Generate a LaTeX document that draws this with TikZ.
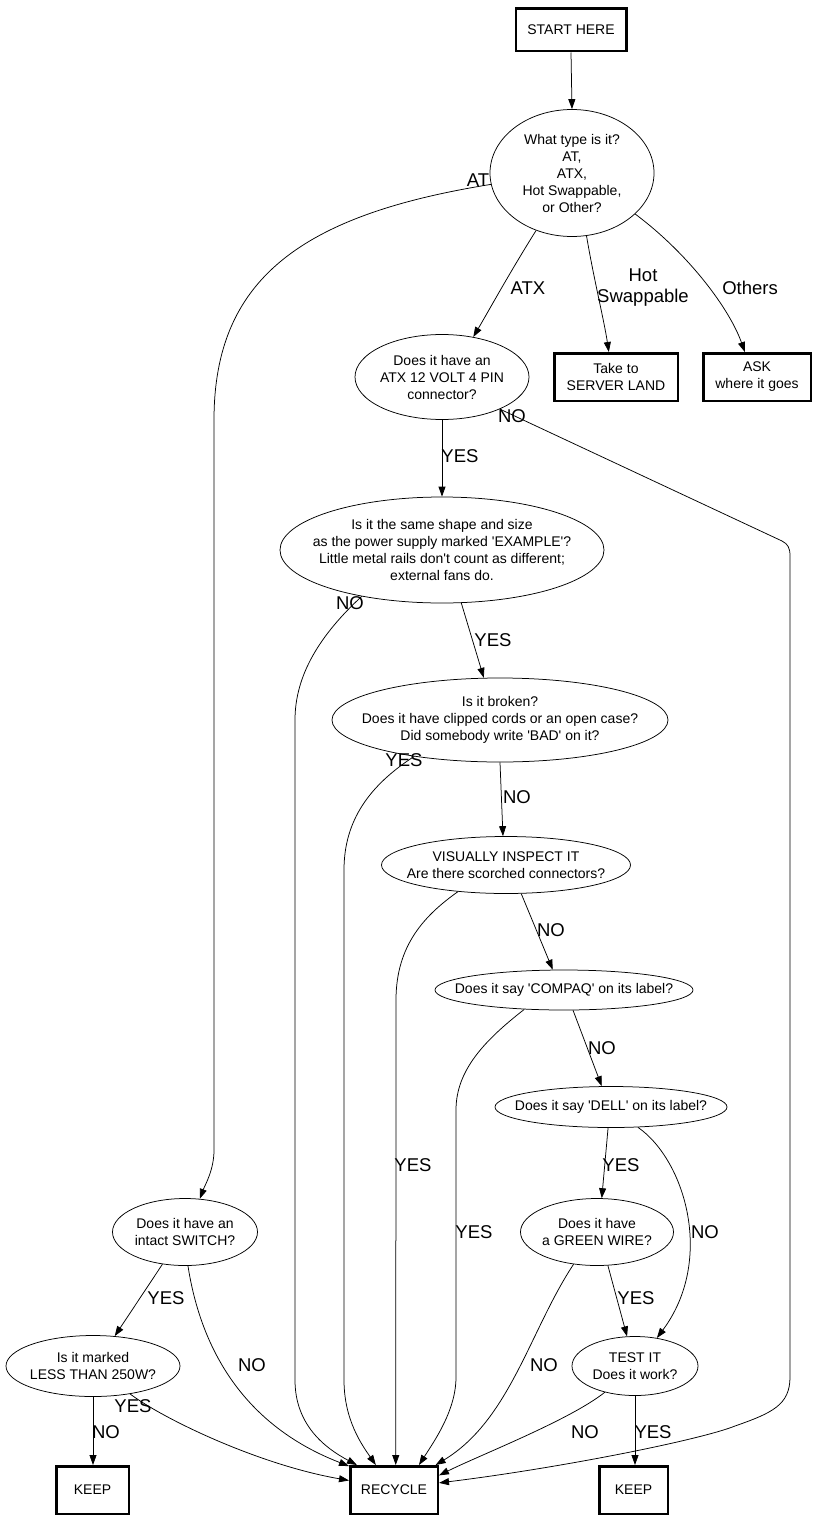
\documentclass[tikz,border=0pt]{standalone}
\usepackage{fontspec}
\setmainfont{Liberation Sans}
\usetikzlibrary{shapes.geometric,arrows.meta}
\newcommand\nodefnt{\fontsize{14}{17}\selectfont}
\newcommand\lblfnt{\fontsize{18.5}{21}\selectfont}
\newcommand\sq{\textquotesingle}
\begin{document}
\begin{tikzpicture}[x=1pt,y=-1pt,
  q/.style={ellipse,draw,line width=0.75pt,inner sep=0pt},
  txt/.style={inner sep=0pt,align=center,font=\nodefnt},
  bx/.style={rectangle,draw,line width=2.5pt,inner sep=0pt,align=center,font=\nodefnt},
  lbl/.style={inner sep=0pt,align=center,font=\lblfnt},
  con/.style={line width=0.75pt,-{Triangle[length=10pt,width=7pt]}}]
\useasboundingbox[fill=white] (0,0) rectangle (819,1520);

% boxes
\node[bx,minimum width=110.5pt,minimum height=42.5pt] (start) at (571,30) {START HERE};
\node[bx,minimum width=123.5pt,minimum height=47.5pt] (server) at (616,377) {Take to\\SERVER LAND};
\node[bx,minimum width=107.5pt,minimum height=47.5pt] (ask) at (757,377) {ASK\\where it goes};
\node[bx,minimum width=72.5pt,minimum height=47.5pt] (keep1) at (92.5,1490) {KEEP};
\node[bx,minimum width=87.5pt,minimum height=47.5pt] (recycle) at (394,1490) {RECYCLE};
\node[bx,minimum width=68.5pt,minimum height=47.5pt] (keep2) at (633.5,1490) {KEEP};

% ellipses
\node[q,minimum width=164pt,minimum height=127pt] (type) at (572,173) {};
\node[txt] (typeT) at (type) {What type is it?\\AT,\\ATX,\\Hot Swappable,\\or Other?};
\node[q,minimum width=174pt,minimum height=85pt] (atx) at (442,377) {};
\node[txt] (atxT) at (atx) {Does it have an\\ATX 12 VOLT 4 PIN\\connector?};
\node[q,minimum width=324pt,minimum height=106pt] (shape) at (442,550) {};
\node[txt] (shapeT) at (shape) {Is it the same shape and size\\as the power supply marked \sq EXAMPLE\sq?\\Little metal rails don\sq t count as different;\\external fans do.};
\node[q,minimum width=336pt,minimum height=84pt] (broken) at (500,720) {};
\node[txt] (brokenT) at (broken) {Is it broken?\\Does it have clipped cords or an open case?\\Did somebody write \sq BAD\sq\ on it?};
\node[q,minimum width=249pt,minimum height=57pt] (visual) at (506,865) {};
\node[txt] (visualT) at (visual) {VISUALLY INSPECT IT\\Are there scorched connectors?};
\node[q,minimum width=258pt,minimum height=40pt] (compaq) at (564,990) {};
\node[txt] (compaqT) at (compaq) {Does it say \sq COMPAQ\sq\ on its label?};
\node[q,minimum width=232pt,minimum height=41pt] (dell) at (611,1107) {};
\node[txt] (dellT) at (dell) {Does it say \sq DELL\sq\ on its label?};
\node[q,minimum width=145pt,minimum height=67pt] (switch) at (185,1232) {};
\node[txt] (switchT) at (switch) {Does it have an\\intact SWITCH?};
\node[q,minimum width=153pt,minimum height=67pt] (green) at (597,1232) {};
\node[txt] (greenT) at (green) {Does it have\\a GREEN WIRE?};
\node[q,minimum width=174pt,minimum height=61pt] (less) at (93,1366) {};
\node[txt] (lessT) at (less) {Is it marked\\LESS THAN 250W?};
\node[q,minimum width=126pt,minimum height=59pt] (test) at (635,1366) {};
\node[txt] (testT) at (test) {TEST IT\\Does it work?};

% connectors
\draw[con] (start.south) -- (type.north);
\draw[con] (type.238) .. controls (510,272) and (488,312) .. (atx.52);
\draw[con] (type.283) .. controls (594,280) and (604,320) .. (server.106);
\draw[con] (type.327) .. controls (690,255) and (730,310) .. (ask.116);
\draw[con] (type.188) .. controls (300,215) and (214,280) .. (214,420) -- (214,1150) .. controls (214,1170) and (205,1185) .. (switch.66);
\draw[con] (atx.331) -- (782,541) .. controls (788,544) and (790,548) .. (790,556) -- (790,1377) .. controls (790,1405) and (772,1413) .. (735,1426) .. controls (700,1440) and (560,1468) .. (recycle.9);
\draw[con] (atx.south) -- (shape.north);
\draw[con] (shape.290) -- (broken.111);
\draw[con] (shape.210) .. controls (320,635) and (295,675) .. (295,720) -- (295,1380) .. controls (295,1425) and (325,1448) .. (recycle.146);
\draw[con] (broken.south) -- (visual.96);
\draw[con] (broken.203) .. controls (370,785) and (344,820) .. (344,870) -- (344,1380) .. controls (344,1420) and (362,1445) .. (recycle.126);
\draw[con] (visual.298) -- (compaq.119);
\draw[con] (visual.209) .. controls (425,915) and (396,945) .. (396,1000) -- (recycle.86);
\draw[con] (compaq.294) -- (dell.114);
\draw[con] (compaq.206) .. controls (485,1040) and (456,1070) .. (456,1110) -- (456,1377) .. controls (456,1410) and (435,1440) .. (recycle.45);
\draw[con] (dell.262) -- (green.82);
\draw[con] (dell.323) .. controls (685,1160) and (715,1260) .. (test.52);
\draw[con] (green.288) -- (test.105);
\draw[con] (green.234) .. controls (530,1330) and (510,1420) .. (recycle.31);
\draw[con] (test.221) .. controls (570,1420) and (480,1455) .. (recycle.18);
\draw[con] (test.south) -- (test.south |- keep2.north);
\draw[con] (switch.235) -- (less.54);
\draw[con] (switch.275) .. controls (198,1330) and (230,1420) .. (recycle.152);
\draw[con] (less.323) .. controls (165,1420) and (260,1465) .. (recycle.168);
\draw[con] (less.south) -- (less.south |- keep1.north);

% edge labels
\node[lbl] (l1) at (478,180) {AT};
\node[lbl] (l2) at (528,288) {ATX};
\node[lbl] (l3) at (643,288) {Hot\\Swappable};
\node[lbl] (l4) at (750,288) {Others};
\node[lbl] (l5) at (512,416) {NO};
\node[lbl] (l6) at (460,456) {YES};
\node[lbl] (l7) at (350,603) {NO};
\node[lbl] (l8) at (493,640) {YES};
\node[lbl] (l9) at (404,760) {YES};
\node[lbl] (l10) at (517,797) {NO};
\node[lbl] (l11) at (551,930) {NO};
\node[lbl] (l12) at (602,1048) {NO};
\node[lbl] (l13) at (413,1165) {YES};
\node[lbl] (l14) at (621,1165) {YES};
\node[lbl] (l15) at (474,1232) {YES};
\node[lbl] (l16) at (705,1232) {NO};
\node[lbl] (l17) at (166,1298) {YES};
\node[lbl] (l18) at (636,1298) {YES};
\node[lbl] (l19) at (252,1365) {NO};
\node[lbl] (l20) at (544,1365) {NO};
\node[lbl] (l21) at (133,1406) {YES};
\node[lbl] (l22) at (106,1432) {NO};
\node[lbl] (l23) at (585,1432) {NO};
\node[lbl] (l24) at (653,1432) {YES};
\end{tikzpicture}
\end{document}
